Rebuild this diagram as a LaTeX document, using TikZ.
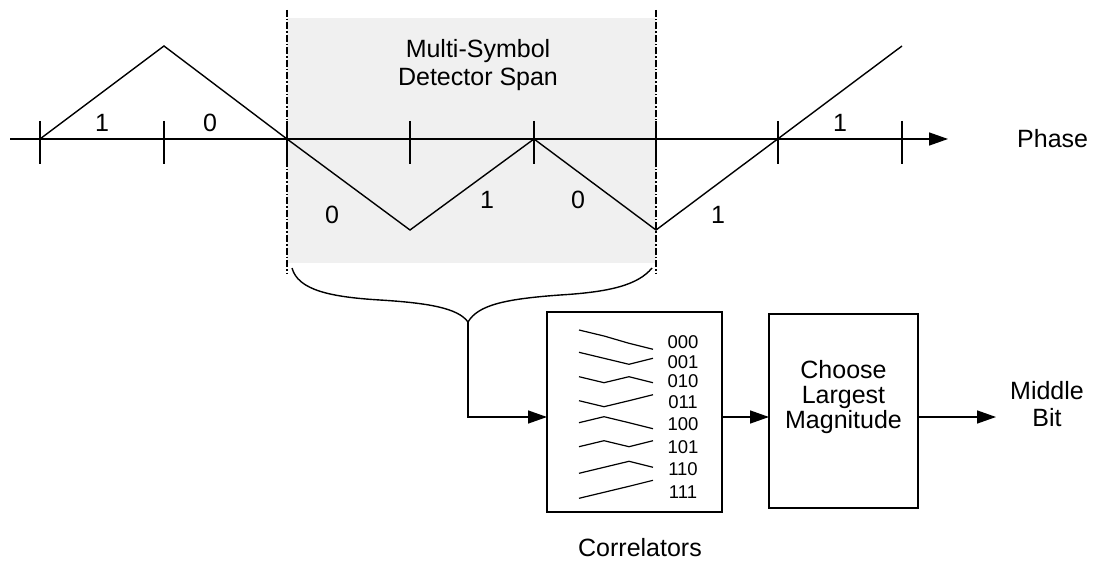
\documentclass[tikz,border=0pt]{standalone}
\usepackage{fontspec}
\setmainfont{Liberation Sans}
\usetikzlibrary{arrows.meta}
\tikzset{
  wave/.style={line width=1.4pt, line join=miter},
  tickmark/.style={line width=1.4pt},
  spanline/.style={line width=1.2pt, dash pattern=on 7pt off 2pt on 1.5pt off 2pt},
  arr/.style={line width=1.4pt, -{Triangle[length=19pt,width=13pt]}},
  blk/.style={draw, line width=1.6pt, inner sep=0pt},
  lbl/.style={font=\fontsize{25}{28}\selectfont, inner sep=0pt},
  small/.style={font=\fontsize{18.5}{20}\selectfont, inner sep=0pt},
  mini/.style={line width=1.2pt},
}
\begin{document}
\begin{tikzpicture}[x=1pt,y=-1pt]
\useasboundingbox (0,0) rectangle (1099,561);
% shaded detector span
\fill[gray!12] (287,18) rectangle (656,263);
\draw[spanline] (287,10) -- (287,273);
\draw[spanline] (656,10) -- (656,273);
% phase axis
\coordinate (ax0) at (10,139);
\coordinate (ax1) at (948,139);
\draw[arr] (ax0) -- (ax1);
\foreach \x in {40,164,287,410,534,656,778,902}
  \draw[tickmark] (\x,121) -- (\x,164);
% waveform
\coordinate (w0) at (40,139);
\coordinate (w1) at (164,46);
\coordinate (w2) at (287,139);
\coordinate (w3) at (410,230);
\coordinate (w4) at (534,139);
\coordinate (w5) at (656,230);
\coordinate (w6) at (902,46);
\draw[wave] (w0) -- (w1) -- (w2) -- (w3) -- (w4) -- (w5) -- (w6);
% bit labels
\node[lbl] (b1) at (102,123) {1};
\node[lbl] (b2) at (210,123) {0};
\node[lbl] (b3) at (332,215) {0};
\node[lbl] (b4) at (487,200) {1};
\node[lbl] (b5) at (578,200) {0};
\node[lbl] (b6) at (718,215) {1};
\node[lbl] (b7) at (840,123) {1};
\node[lbl, anchor=west] (phase) at (1017,139) {Phase};
\node[lbl, align=center, font=\fontsize{25}{28}\selectfont] (span) at (478,65) {Multi-Symbol\\Detector Span};
% brace
\coordinate (brL) at (292,268);
\coordinate (brR) at (652,268);
\coordinate (tip) at (468,322);
\draw[line width=1.4pt] (brL) .. controls (298,290) and (330,297) .. (380,300)
  .. controls (428,303) and (458,308) .. (tip);
\draw[line width=1.4pt] (brR) .. controls (638,285) and (610,292) .. (560,295)
  .. controls (505,299) and (478,305) .. (tip);
% blocks
\node[blk, minimum width=175pt, minimum height=200pt] (corr) at (634.5,412) {};
\node[blk, minimum width=149pt, minimum height=194pt] (choose) at (843.5,411) {};
\node[lbl, align=center, font=\fontsize{25}{25}\selectfont] (choosetxt) at (843.5,397) {Choose\\Largest\\Magnitude};
\node[lbl] (corrlbl) at (640,548) {Correlators};
\node[lbl, align=center, font=\fontsize{25}{27}\selectfont] (mid) at (1047,404) {Middle\\Bit};
% connectors
\coordinate (cin) at (547,417);
\coordinate (cout) at (722,417);
\coordinate (chin) at (769,417);
\coordinate (chout) at (918,417);
\coordinate (outend) at (996,417);
\draw[arr] (tip) |- (cin);
\draw[arr] (cout) -- (chin);
\draw[arr] (chout) -- (outend);
% correlator templates
\foreach \a/\b/\c/\d/\lab/\ly in {
  330/336/343.3/349.3/000/342.3,
  352.3/358.3/364.3/358.3/001/361.7,
  376.7/382.7/376.7/382.7/010/380.7,
  400.7/406.7/400.7/394.7/011/401.7,
  422.7/416.7/422.7/428.7/100/424.3,
  446.7/440.7/446.7/440.7/101/446.7,
  473.3/467.3/461.3/467.3/110/469.3,
  498.3/492.3/486.3/480.3/111/491.7}{
  \draw[mini] (579,\a) -- (604,\b) -- (629,\c) -- (653,\d);
  \node[small] at (683,\ly) {\lab};
}
\end{tikzpicture}
\end{document}
